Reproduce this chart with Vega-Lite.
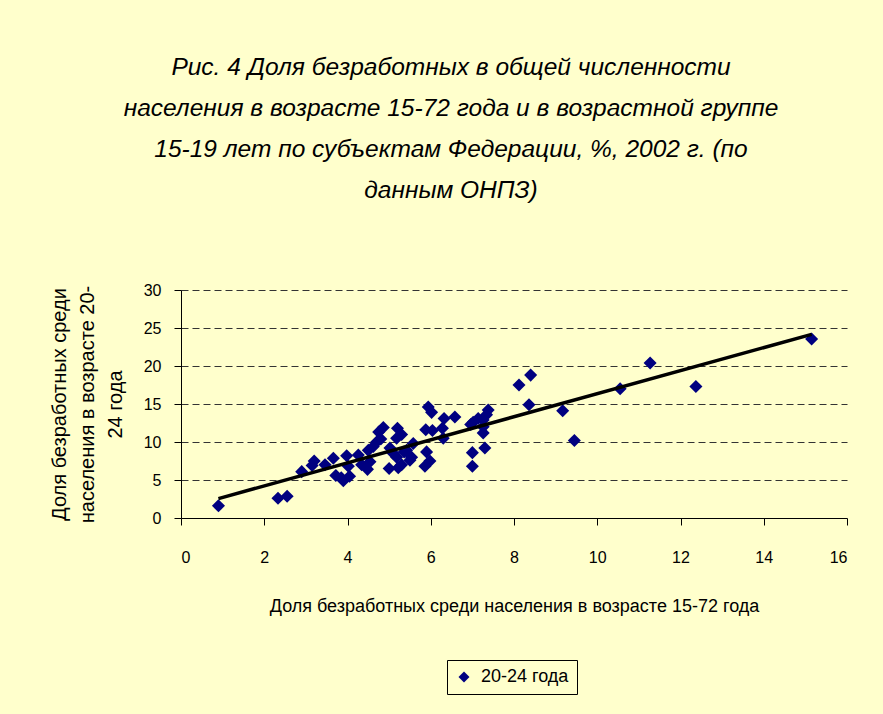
{
  "$schema": "https://vega.github.io/schema/vega-lite/v6.json",
  "autosize": {"type": "none"},
  "padding": {"left": 181, "top": 290, "right": 36, "bottom": 196},
  "width": 666,
  "height": 228,
  "background": "#FFFFCC",
  "title": {
    "text": ["Рис. 4  Доля безработных в общей численности", "населения в возрасте 15-72 года и в возрастной группе", "15-19 лет по субъектам Федерации, %, 2002 г. (по", "данным ОНПЗ)"],
    "font": "Liberation Sans",
    "fontStyle": "italic",
    "fontWeight": "normal",
    "fontSize": 24.5,
    "lineHeight": 41,
    "color": "#000000",
    "anchor": "middle",
    "dx": -63,
    "offset": 79
  },
  "data": {
    "values": [
      {"x": 0.9, "y": 1.6, "s": "20-24 года"},
      {"x": 2.33, "y": 2.6, "s": "20-24 года"},
      {"x": 2.55, "y": 2.85, "s": "20-24 года"},
      {"x": 2.9, "y": 6.1, "s": "20-24 года"},
      {"x": 3.15, "y": 6.9, "s": "20-24 года"},
      {"x": 3.2, "y": 7.5, "s": "20-24 года"},
      {"x": 3.46, "y": 7.0, "s": "20-24 года"},
      {"x": 3.66, "y": 7.85, "s": "20-24 года"},
      {"x": 3.72, "y": 5.6, "s": "20-24 года"},
      {"x": 3.85, "y": 5.3, "s": "20-24 года"},
      {"x": 3.9, "y": 4.9, "s": "20-24 года"},
      {"x": 3.98, "y": 8.2, "s": "20-24 года"},
      {"x": 4.02, "y": 6.8, "s": "20-24 года"},
      {"x": 4.05, "y": 5.5, "s": "20-24 года"},
      {"x": 4.26, "y": 8.3, "s": "20-24 года"},
      {"x": 4.34, "y": 7.0, "s": "20-24 года"},
      {"x": 4.48, "y": 6.4, "s": "20-24 года"},
      {"x": 4.5, "y": 8.9, "s": "20-24 года"},
      {"x": 4.54, "y": 7.4, "s": "20-24 года"},
      {"x": 4.62, "y": 9.4, "s": "20-24 года"},
      {"x": 4.7, "y": 10.0, "s": "20-24 года"},
      {"x": 4.75, "y": 11.3, "s": "20-24 года"},
      {"x": 4.86, "y": 11.9, "s": "20-24 года"},
      {"x": 4.8, "y": 10.4, "s": "20-24 года"},
      {"x": 5.0, "y": 6.5, "s": "20-24 года"},
      {"x": 5.02, "y": 9.2, "s": "20-24 года"},
      {"x": 5.1, "y": 8.5, "s": "20-24 года"},
      {"x": 5.18, "y": 10.5, "s": "20-24 года"},
      {"x": 5.2, "y": 11.8, "s": "20-24 года"},
      {"x": 5.22, "y": 6.6, "s": "20-24 года"},
      {"x": 5.18, "y": 8.0, "s": "20-24 года"},
      {"x": 5.3, "y": 11.0, "s": "20-24 года"},
      {"x": 5.3, "y": 7.0, "s": "20-24 года"},
      {"x": 5.36, "y": 8.7, "s": "20-24 года"},
      {"x": 5.42, "y": 8.9, "s": "20-24 года"},
      {"x": 5.54, "y": 8.0, "s": "20-24 года"},
      {"x": 5.58, "y": 9.8, "s": "20-24 года"},
      {"x": 5.5, "y": 7.6, "s": "20-24 года"},
      {"x": 5.86, "y": 6.8, "s": "20-24 года"},
      {"x": 5.9, "y": 8.7, "s": "20-24 года"},
      {"x": 5.98, "y": 7.5, "s": "20-24 года"},
      {"x": 5.94, "y": 14.6, "s": "20-24 года"},
      {"x": 6.02, "y": 13.9, "s": "20-24 года"},
      {"x": 5.88, "y": 11.6, "s": "20-24 года"},
      {"x": 6.04, "y": 11.5, "s": "20-24 года"},
      {"x": 6.3, "y": 10.5, "s": "20-24 года"},
      {"x": 6.28, "y": 11.8, "s": "20-24 года"},
      {"x": 6.32, "y": 13.1, "s": "20-24 года"},
      {"x": 6.58, "y": 13.3, "s": "20-24 года"},
      {"x": 7.0, "y": 8.6, "s": "20-24 года"},
      {"x": 7.0, "y": 6.8, "s": "20-24 года"},
      {"x": 6.96, "y": 12.3, "s": "20-24 года"},
      {"x": 7.02, "y": 12.6, "s": "20-24 года"},
      {"x": 7.14, "y": 13.1, "s": "20-24 года"},
      {"x": 7.26, "y": 12.9, "s": "20-24 года"},
      {"x": 7.34, "y": 13.6, "s": "20-24 года"},
      {"x": 7.38, "y": 14.2, "s": "20-24 года"},
      {"x": 7.26, "y": 12.0, "s": "20-24 года"},
      {"x": 7.26, "y": 11.2, "s": "20-24 года"},
      {"x": 7.3, "y": 9.2, "s": "20-24 года"},
      {"x": 8.12, "y": 17.5, "s": "20-24 года"},
      {"x": 8.4, "y": 18.8, "s": "20-24 года"},
      {"x": 8.36, "y": 14.9, "s": "20-24 года"},
      {"x": 9.17, "y": 14.1, "s": "20-24 года"},
      {"x": 9.45, "y": 10.2, "s": "20-24 года"},
      {"x": 10.55, "y": 17.0, "s": "20-24 года"},
      {"x": 11.27, "y": 20.4, "s": "20-24 года"},
      {"x": 12.37, "y": 17.3, "s": "20-24 года"},
      {"x": 15.15, "y": 23.55, "s": "20-24 года"}
    ]
  },
  "encoding": {
    "x": {
      "field": "x", "type": "quantitative",
      "scale": {"domain": [0, 16], "nice": false, "zero": true},
      "axis": {
        "title": "Доля безработных  среди населения в возрасте 15-72 года",
        "values": [0, 2, 4, 6, 8, 10, 12, 14, 16],
        "grid": false,
        "domainColor": "#000000",
        "tickColor": "#000000",
        "tickSize": 7,
        "labelFontSize": 16,
        "labelColor": "#000000",
        "labelPadding": 24,
        "titleFontSize": 18,
        "titleFontWeight": "normal",
        "titleColor": "#000000",
        "titlePadding": 32
      }
    },
    "y": {
      "field": "y", "type": "quantitative",
      "scale": {"domain": [0, 30], "nice": false},
      "axis": {
        "title": ["Доля безработных среди", "населения в возрасте 20-", "24 года"],
        "values": [0, 5, 10, 15, 20, 25, 30],
        "grid": true,
        "gridDash": [7, 4],
        "gridColor": "#333333",
        "gridWidth": 1,
        "gridOpacity": {"condition": {"test": "datum.value == 0", "value": 0}, "value": 1},
        "domainColor": "#000000",
        "tickColor": "#000000",
        "tickSize": 7,
        "labelFontSize": 16,
        "labelColor": "#000000",
        "labelPadding": 13,
        "titleFontSize": 20,
        "titleFontWeight": "normal",
        "titleColor": "#000000",
        "titleLineHeight": 28,
        "titlePadding": 18
      }
    }
  },
  "layer": [
    {
      "mark": {"type": "point", "shape": "diamond", "filled": true, "size": 170, "opacity": 1},
      "encoding": {
        "color": {
          "field": "s", "type": "nominal",
          "scale": {"range": ["#000080"]},
          "legend": {
            "title": null,
            "orient": "none",
            "legendX": 266,
            "legendY": 370,
            "symbolType": "diamond",
            "symbolSize": 120,
            "symbolOpacity": 1,
            "labelFontSize": 18,
            "labelColor": "#000000",
            "labelFont": "Liberation Sans",
            "labelOffset": 8,
            "strokeColor": "#000000",
            "fillColor": "#FFFFCC",
            "padding": 8
          }
        }
      }
    },
    {
      "transform": [{"regression": "y", "on": "x"}],
      "mark": {"type": "line", "color": "#000000", "strokeWidth": 3.5}
    }
  ],
  "config": {
    "font": "Liberation Sans",
    "view": {"stroke": null}
  }
}
